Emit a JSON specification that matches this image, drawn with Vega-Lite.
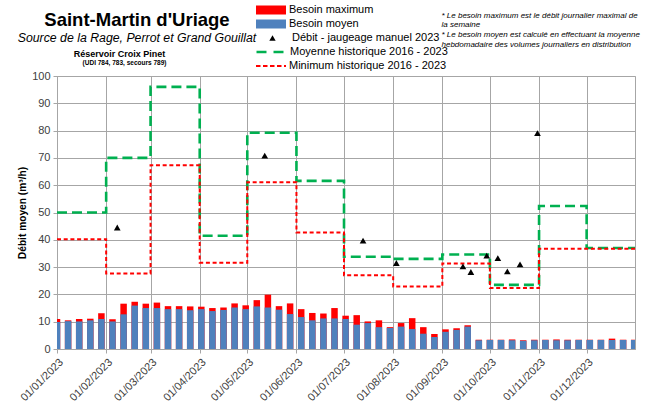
{
  "$schema": "https://vega.github.io/schema/vega-lite/v6.json",
  "width": 578,
  "height": 273,
  "autosize": {"type": "none"},
  "padding": {"left": 57, "top": 76, "right": 16, "bottom": 68},
  "background": "white",
  "config": {
    "font": "Liberation Sans",
    "view": {"stroke": "#a6a6a6", "strokeWidth": 1},
    "legend": {"labelFontSize": 11, "labelColor": "black", "labelLimit": 300, "padding": 0, "rowPadding": 0, "clipHeight": 14, "titleFontSize": 1}
  },
  "title": {
    "text": "Saint-Martin d'Uriage",
    "subtitle": "Source de la Rage, Perrot et Grand Gouillat",
    "anchor": "start",
    "frame": "group",
    "align": "center",
    "dx": 80,
    "offset": -41,
    "fontSize": 18.5,
    "fontWeight": "bold",
    "color": "black",
    "subtitleFontSize": 12.3,
    "subtitleFontStyle": "italic",
    "subtitleColor": "black",
    "subtitlePadding": 2
  },
  "datasets": {
    "weeks": [
      {"date": "2023-01-01", "max": 11.0, "mean": 9.9},
      {"date": "2023-01-08", "max": 10.5, "mean": 10.2},
      {"date": "2023-01-15", "max": 11.0, "mean": 10.1},
      {"date": "2023-01-22", "max": 11.1, "mean": 10.5},
      {"date": "2023-01-29", "max": 13.1, "mean": 11.0},
      {"date": "2023-02-05", "max": 10.9, "mean": 10.1},
      {"date": "2023-02-12", "max": 16.6, "mean": 12.7},
      {"date": "2023-02-19", "max": 17.3, "mean": 15.9},
      {"date": "2023-02-26", "max": 16.6, "mean": 15.0},
      {"date": "2023-03-05", "max": 17.0, "mean": 15.0},
      {"date": "2023-03-12", "max": 15.7, "mean": 14.6},
      {"date": "2023-03-19", "max": 15.7, "mean": 14.6},
      {"date": "2023-03-26", "max": 15.6, "mean": 14.2},
      {"date": "2023-04-02", "max": 15.5, "mean": 14.6},
      {"date": "2023-04-09", "max": 15.0, "mean": 13.9},
      {"date": "2023-04-16", "max": 15.2, "mean": 14.3},
      {"date": "2023-04-23", "max": 16.7, "mean": 15.2},
      {"date": "2023-04-30", "max": 16.0, "mean": 14.6},
      {"date": "2023-05-07", "max": 17.9, "mean": 15.6},
      {"date": "2023-05-14", "max": 19.9, "mean": 15.2},
      {"date": "2023-05-21", "max": 15.7, "mean": 14.4},
      {"date": "2023-05-28", "max": 16.7, "mean": 12.8},
      {"date": "2023-06-04", "max": 14.6, "mean": 11.7},
      {"date": "2023-06-11", "max": 13.2, "mean": 10.5},
      {"date": "2023-06-18", "max": 13.0, "mean": 11.2},
      {"date": "2023-06-25", "max": 15.0, "mean": 11.2},
      {"date": "2023-07-02", "max": 12.2, "mean": 11.0},
      {"date": "2023-07-09", "max": 12.4, "mean": 8.9},
      {"date": "2023-07-16", "max": 10.1, "mean": 9.5},
      {"date": "2023-07-23", "max": 10.5, "mean": 8.0},
      {"date": "2023-07-30", "max": 8.0, "mean": 7.7},
      {"date": "2023-08-06", "max": 9.5, "mean": 8.2},
      {"date": "2023-08-13", "max": 11.3, "mean": 7.3},
      {"date": "2023-08-20", "max": 8.0, "mean": 5.6},
      {"date": "2023-08-27", "max": 5.5, "mean": 4.4},
      {"date": "2023-09-03", "max": 7.2, "mean": 6.3},
      {"date": "2023-09-10", "max": 7.6, "mean": 7.0},
      {"date": "2023-09-17", "max": 8.7, "mean": 8.2},
      {"date": "2023-09-24", "max": 3.4, "mean": 3.2},
      {"date": "2023-10-01", "max": 3.4, "mean": 3.3},
      {"date": "2023-10-08", "max": 3.4, "mean": 3.3},
      {"date": "2023-10-15", "max": 3.5, "mean": 3.2},
      {"date": "2023-10-22", "max": 3.2, "mean": 3.0},
      {"date": "2023-10-29", "max": 3.4, "mean": 3.2},
      {"date": "2023-11-05", "max": 3.4, "mean": 3.3},
      {"date": "2023-11-12", "max": 3.5, "mean": 3.2},
      {"date": "2023-11-19", "max": 3.4, "mean": 3.2},
      {"date": "2023-11-26", "max": 3.4, "mean": 3.3},
      {"date": "2023-12-03", "max": 3.4, "mean": 3.3},
      {"date": "2023-12-10", "max": 3.4, "mean": 3.3},
      {"date": "2023-12-17", "max": 3.8, "mean": 3.3},
      {"date": "2023-12-24", "max": 3.4, "mean": 3.3},
      {"date": "2023-12-31", "max": 3.4, "mean": 3.3}
    ],
    "months": [
      {"date": "2023-01-01", "moy": 50.0, "min": 40.2},
      {"date": "2023-02-01", "moy": 70.0, "min": 27.7},
      {"date": "2023-03-01", "moy": 96.0, "min": 67.3},
      {"date": "2023-04-01", "moy": 41.5, "min": 31.6},
      {"date": "2023-05-01", "moy": 79.2, "min": 61.1},
      {"date": "2023-06-01", "moy": 61.6, "min": 42.7},
      {"date": "2023-07-01", "moy": 33.8, "min": 27.0},
      {"date": "2023-08-01", "moy": 33.0, "min": 22.9},
      {"date": "2023-09-01", "moy": 34.6, "min": 31.3},
      {"date": "2023-10-01", "moy": 23.5, "min": 22.3},
      {"date": "2023-11-01", "moy": 52.4, "min": 36.7},
      {"date": "2023-12-01", "moy": 37.0, "min": 36.7},
      {"date": "2023-12-31T12:00:00Z", "moy": 37.0, "min": 36.7}
    ],
    "jaugeage": [
      {"date": "2023-02-08", "debit": 44.5},
      {"date": "2023-05-12", "debit": 70.8},
      {"date": "2023-07-13", "debit": 39.7},
      {"date": "2023-08-03", "debit": 31.5},
      {"date": "2023-09-14", "debit": 30.3},
      {"date": "2023-09-19", "debit": 28.2},
      {"date": "2023-09-29", "debit": 34.2},
      {"date": "2023-10-06", "debit": 33.3},
      {"date": "2023-10-12", "debit": 28.4},
      {"date": "2023-10-20", "debit": 31.0},
      {"date": "2023-10-31", "debit": 79.1}
    ]
  },
  "resolve": {
    "axis": {"x": "independent", "y": "independent"},
    "scale": {"fill": "independent", "stroke": "independent"}
  },
  "layer": [
    {
      "data": {"name": "weeks"},
      "mark": {"type": "bar", "size": 6.5, "clip": true},
      "encoding": {
        "x": {
          "field": "date", "type": "temporal",
          "scale": {"type": "utc", "nice": false, "padding": 0, "domain": [{"year": 2023, "month": 1, "date": 1, "utc": true}, {"year": 2023, "month": 12, "date": 31, "hours": 12, "utc": true}]},
          "axis": {
            "tickCount": {"interval": "month", "step": 1},
            "format": "%d/%m/%Y",
            "labelAngle": -45,
            "labelFontSize": 11,
            "labelColor": "#404040",
            "labelOverlap": false,
            "labelFlush": false,
            "labelPadding": 3,
            "grid": true,
            "gridColor": "#a6a6a6",
            "domainColor": "#a6a6a6",
            "tickColor": "#a6a6a6",
            "tickSize": 4,
            "title": "(UDI 784, 783, secours 789)",
            "titleX": 67,
            "titleY": -287,
            "titleFontSize": 6.5,
            "titleFontWeight": "bold",
            "titleAlign": "center",
            "titleBaseline": "middle",
            "titleAngle": 0,
            "titleColor": "black"
          }
        },
        "y": {
          "field": "max", "type": "quantitative",
          "scale": {"domain": [0, 100], "nice": false},
          "axis": {
            "values": [0, 10, 20, 30, 40, 50, 60, 70, 80, 90, 100],
            "labelFontSize": 11,
            "labelColor": "#404040",
            "labelPadding": 3,
            "grid": true,
            "gridColor": "#a6a6a6",
            "domainColor": "#a6a6a6",
            "tickColor": "#a6a6a6",
            "tickSize": 4,
            "title": "Débit moyen (m³/h)",
            "titleFontSize": 10.2,
            "titleFontWeight": "bold",
            "titleColor": "black",
            "titleX": -35,
            "titleY": 136.5,
            "titleAngle": -90,
            "titleAlign": "center",
            "titleBaseline": "middle"
          }
        },
        "fill": {
          "datum": "Besoin maximum",
          "type": "nominal",
          "scale": {"range": ["#ff0000"]},
          "legend": {
            "orient": "none", "legendX": 198, "legendY": -73, "title": null,
            "symbolType": "M-1,-0.3H1V0.3H-1Z", "symbolSize": 900, "labelOffset": 2
          }
        }
      }
    },
    {
      "data": {"name": "weeks"},
      "mark": {"type": "bar", "size": 6.5, "clip": true},
      "encoding": {
        "x": {"field": "date", "type": "temporal", "axis": null},
        "y": {"field": "mean", "type": "quantitative", "axis": null},
        "fill": {
          "datum": "Besoin moyen",
          "type": "nominal",
          "scale": {"range": ["#4f81bd"]},
          "legend": {
            "orient": "none", "legendX": 198, "legendY": -59, "title": null,
            "symbolType": "M-1,-0.3H1V0.3H-1Z", "symbolSize": 900, "labelOffset": 2
          }
        }
      }
    },
    {
      "data": {"name": "months"},
      "mark": {"type": "line", "interpolate": "step-after", "strokeDash": [10, 5], "strokeWidth": 2.6, "clip": true},
      "encoding": {
        "x": {"field": "date", "type": "temporal", "axis": null},
        "y": {"field": "moy", "type": "quantitative", "axis": null},
        "stroke": {
          "datum": "Moyenne historique 2016 - 2023",
          "type": "nominal",
          "scale": {"range": ["#00b050"]},
          "legend": {
            "orient": "none", "legendX": 198, "legendY": -31, "title": null,
            "symbolType": "stroke", "symbolSize": 900, "symbolDash": [10, 7], "symbolStrokeWidth": 2.6, "labelOffset": 2
          }
        }
      }
    },
    {
      "data": {"name": "months"},
      "mark": {"type": "line", "interpolate": "step-after", "strokeDash": [4, 2.7], "strokeWidth": 2, "clip": true},
      "encoding": {
        "x": {"field": "date", "type": "temporal", "axis": null},
        "y": {"field": "min", "type": "quantitative", "axis": null},
        "stroke": {
          "datum": "Minimum historique 2016 - 2023",
          "type": "nominal",
          "scale": {"range": ["#ff0000"]},
          "legend": {
            "orient": "none", "legendX": 198, "legendY": -17, "title": null,
            "symbolType": "stroke", "symbolSize": 900, "symbolDash": [4.5, 2.5], "symbolStrokeWidth": 2, "labelOffset": 2
          }
        }
      }
    },
    {
      "data": {"name": "jaugeage"},
      "mark": {"type": "point", "filled": true, "size": 45, "opacity": 1, "color": "black"},
      "encoding": {
        "x": {
          "field": "date", "type": "temporal",
          "axis": {
            "orient": "top",
            "labels": false, "ticks": false, "domain": false, "grid": false,
            "title": ["* Le besoin maximum est le débit journalier maximal de", "la semaine", "\u00a0", "* Le besoin moyen est calculé en effectuant la moyenne", "hebdomadaire des volumes journaliers en distribution"],
            "titleX": 384,
            "titleY": -65,
            "titleAlign": "left",
            "titleBaseline": "top",
            "titleAngle": 0,
            "titleFontSize": 8,
            "titleFontStyle": "italic",
            "titleFontWeight": "normal",
            "titleLineHeight": 9.8,
            "titleColor": "black"
          }
        },
        "y": {
          "field": "debit", "type": "quantitative",
          "axis": {
            "orient": "right",
            "labels": false, "ticks": false, "domain": false, "grid": false,
            "title": "Réservoir Croix Pinet",
            "titleX": -516,
            "titleY": -23,
            "titleAngle": 0,
            "titleAlign": "center",
            "titleBaseline": "middle",
            "titleFontSize": 9,
            "titleFontWeight": "bold",
            "titleColor": "black"
          }
        },
        "shape": {
          "datum": "Débit - jaugeage manuel 2023",
          "type": "nominal",
          "scale": {"range": ["triangle-up"]},
          "legend": {
            "orient": "none", "legendX": 210, "legendY": -45, "title": null,
            "symbolSize": 40, "symbolFillColor": "black", "symbolStrokeColor": "black", "labelOffset": 14
          }
        }
      }
    }
  ]
}
